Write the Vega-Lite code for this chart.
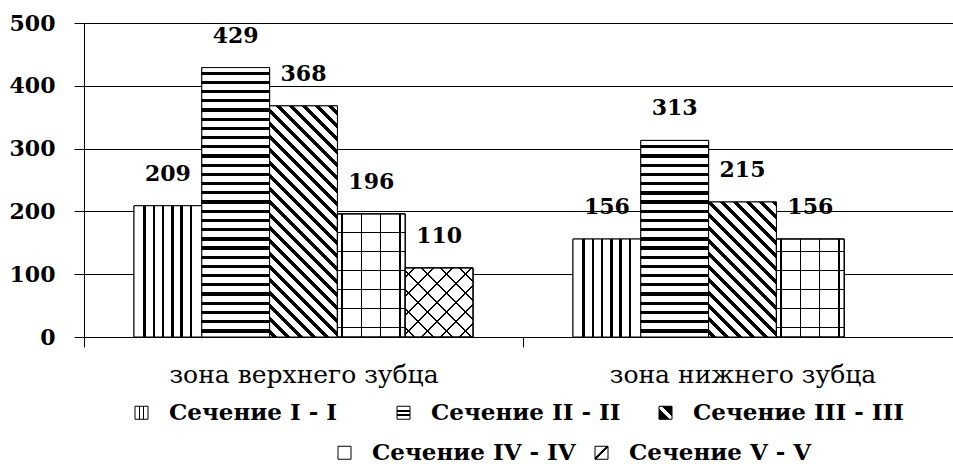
{
"$schema": "https://vega.github.io/schema/vega-lite/v6.json",
"width": 878, "height": 314,
"padding": {"left": 9, "top": 12, "right": 0, "bottom": 0},
"config": {"view": {"stroke": null}, "font": "DejaVu Serif"},
"data": {"values": [
{"zone": "зона верхнего зубца", "section": "Сечение I - I", "value": 209},
{"zone": "зона верхнего зубца", "section": "Сечение II - II", "value": 429},
{"zone": "зона верхнего зубца", "section": "Сечение III - III", "value": 368},
{"zone": "зона верхнего зубца", "section": "Сечение IV - IV", "value": 196},
{"zone": "зона верхнего зубца", "section": "Сечение V - V", "value": 110},
{"zone": "зона нижнего зубца", "section": "Сечение I - I", "value": 156},
{"zone": "зона нижнего зубца", "section": "Сечение II - II", "value": 313},
{"zone": "зона нижнего зубца", "section": "Сечение III - III", "value": 215},
{"zone": "зона нижнего зубца", "section": "Сечение IV - IV", "value": 156}
]},
"encoding": {
"x": {"field": "zone", "type": "nominal", "sort": null,
 "scale": {"domain": ["зона верхнего зубца", "зона нижнего зубца"], "paddingInner": 0, "paddingOuter": 0},
 "axis": {"title": null, "labelAngle": 0, "tickBand": "extent", "tickSize": 10, "tickColor": "black", "domainColor": "black", "labelFont": "DejaVu Serif", "labelFontSize": 25, "labelColor": "black", "labelPadding": 15, "labelLimit": 400, "grid": false}},
"xOffset": {"field": "section", "type": "nominal", "sort": null,
 "scale": {"domain": ["Сечение I - I", "Сечение II - II", "Сечение III - III", "Сечение IV - IV", "Сечение V - V"], "paddingInner": 0, "paddingOuter": 0.7375}},
"y": {"field": "value", "type": "quantitative", "scale": {"domain": [0, 500], "nice": false},
 "axis": {"title": null, "values": [0, 100, 200, 300, 400, 500], "grid": true, "gridColor": "black", "gridWidth": 1, "domainColor": "black", "tickColor": "black", "tickSize": 10, "labelFont": "DejaVu Serif", "labelFontWeight": "bold", "labelFontSize": 22, "labelColor": "black", "labelPadding": 19}}
},
"layer": [
{"transform": [{"filter": {"field": "section", "oneOf": ["Сечение I - I", "Сечение II - II", "Сечение III - III"]}}],
 "mark": {"type": "bar", "stroke": "black", "strokeWidth": 1},
 "encoding": {"fill": {"field": "section", "type": "nominal", "sort": null,
  "scale": {"domain": ["Сечение I - I", "Сечение II - II", "Сечение III - III"], "range": [
   {"expr": "{gradient:'linear',x1:0,y1:0,x2:1,y2:0,stops:[{offset:0,color:'white'},{offset:0.28,color:'white'},{offset:0.28,color:'black'},{offset:0.42,color:'black'},{offset:0.42,color:'white'},{offset:0.58,color:'white'},{offset:0.58,color:'black'},{offset:0.72,color:'black'},{offset:0.72,color:'white'},{offset:1,color:'white'}]}"},
   {"expr": "{gradient:'linear',x1:0,y1:0,x2:0,y2:1,stops:[{offset:0,color:'white'},{offset:0.28,color:'white'},{offset:0.28,color:'black'},{offset:0.42,color:'black'},{offset:0.42,color:'white'},{offset:0.58,color:'white'},{offset:0.58,color:'black'},{offset:0.72,color:'black'},{offset:0.72,color:'white'},{offset:1,color:'white'}]}"},
   {"expr": "{gradient:'linear',x1:0,y1:1,x2:1,y2:0,stops:[{offset:0,color:'black'},{offset:0.4,color:'black'},{offset:0.4,color:'white'},{offset:0.6,color:'white'},{offset:0.6,color:'black'},{offset:1,color:'black'}]}"}
  ]},
  "legend": {"orient": "none", "legendX": 46, "legendY": 378, "direction": "horizontal", "title": null, "gridAlign": "all", "columnPadding": 11, "padding": 0, "labelFont": "DejaVu Serif", "labelFontWeight": "bold", "labelFontSize": 23, "labelColor": "black", "labelOffset": 16, "labelLimit": 400, "symbolType": "square", "symbolSize": 169, "symbolStrokeColor": "black", "symbolStrokeWidth": 1, "symbolOpacity": 1}}}},
{"transform": [{"filter": {"field": "section", "oneOf": ["Сечение IV - IV", "Сечение V - V"]}}],
 "mark": {"type": "bar", "stroke": "black", "strokeWidth": 1},
 "encoding": {"fill": {"field": "section", "type": "nominal", "sort": null,
  "scale": {"domain": ["Сечение IV - IV", "Сечение V - V"], "range": [
   "white",
   {"expr": "{gradient:'linear',x1:0,y1:0,x2:1,y2:1,stops:[{offset:0,color:'white'},{offset:0.45,color:'white'},{offset:0.45,color:'black'},{offset:0.55,color:'black'},{offset:0.55,color:'white'},{offset:1,color:'white'}]}"}
  ]},
  "legend": {"orient": "none", "legendX": 249, "legendY": 418, "direction": "horizontal", "title": null, "gridAlign": "all", "columnPadding": 14, "padding": 0, "labelFont": "DejaVu Serif", "labelFontWeight": "bold", "labelFontSize": 23, "labelColor": "black", "labelOffset": 16, "labelLimit": 400, "symbolType": "square", "symbolSize": 169, "symbolStrokeColor": "black", "symbolStrokeWidth": 1, "symbolOpacity": 1}}}},
{"transform": [{"filter": {"field": "section", "equal": "Сечение I - I"}}],
 "mark": {"type": "bar", "stroke": "black", "strokeWidth": 1,
  "fill": {"gradient": "linear", "x1": 0, "y1": 0, "x2": 1, "y2": 0, "stops": [{"offset": 0, "color": "white"},
   {"offset": 0.137, "color": "white"}, {"offset": 0.137, "color": "black"}, {"offset": 0.174, "color": "black"}, {"offset": 0.174, "color": "white"},
   {"offset": 0.274, "color": "white"}, {"offset": 0.274, "color": "black"}, {"offset": 0.311, "color": "black"}, {"offset": 0.311, "color": "white"},
   {"offset": 0.411, "color": "white"}, {"offset": 0.411, "color": "black"}, {"offset": 0.448, "color": "black"}, {"offset": 0.448, "color": "white"},
   {"offset": 0.548, "color": "white"}, {"offset": 0.548, "color": "black"}, {"offset": 0.585, "color": "black"}, {"offset": 0.585, "color": "white"},
   {"offset": 0.685, "color": "white"}, {"offset": 0.685, "color": "black"}, {"offset": 0.722, "color": "black"}, {"offset": 0.722, "color": "white"},
   {"offset": 0.822, "color": "white"}, {"offset": 0.822, "color": "black"}, {"offset": 0.859, "color": "black"}, {"offset": 0.859, "color": "white"},
   {"offset": 1, "color": "white"}]}}},
{"transform": [{"filter": {"and": [{"field": "section", "equal": "Сечение II - II"}, {"field": "zone", "equal": "зона верхнего зубца"}]}}],
 "mark": {"type": "bar", "stroke": "black", "strokeWidth": 1,
   "fill": {"gradient": "linear", "x1": 0, "y1": 1, "x2": 0, "y2": -0.0245, "stops": [{"offset": 0, "color": "white"},
{"offset": 0.0163, "color": "white"}, {"offset": 0.0163, "color": "black"}, {"offset": 0.0283, "color": "black"}, {"offset": 0.0283, "color": "white"},
{"offset": 0.0496, "color": "white"}, {"offset": 0.0496, "color": "black"}, {"offset": 0.0616, "color": "black"}, {"offset": 0.0616, "color": "white"},
{"offset": 0.0830, "color": "white"}, {"offset": 0.0830, "color": "black"}, {"offset": 0.0950, "color": "black"}, {"offset": 0.0950, "color": "white"},
{"offset": 0.1163, "color": "white"}, {"offset": 0.1163, "color": "black"}, {"offset": 0.1283, "color": "black"}, {"offset": 0.1283, "color": "white"},
{"offset": 0.1496, "color": "white"}, {"offset": 0.1496, "color": "black"}, {"offset": 0.1616, "color": "black"}, {"offset": 0.1616, "color": "white"},
{"offset": 0.1830, "color": "white"}, {"offset": 0.1830, "color": "black"}, {"offset": 0.1950, "color": "black"}, {"offset": 0.1950, "color": "white"},
{"offset": 0.2163, "color": "white"}, {"offset": 0.2163, "color": "black"}, {"offset": 0.2283, "color": "black"}, {"offset": 0.2283, "color": "white"},
{"offset": 0.2496, "color": "white"}, {"offset": 0.2496, "color": "black"}, {"offset": 0.2616, "color": "black"}, {"offset": 0.2616, "color": "white"},
{"offset": 0.2830, "color": "white"}, {"offset": 0.2830, "color": "black"}, {"offset": 0.2950, "color": "black"}, {"offset": 0.2950, "color": "white"},
{"offset": 0.3163, "color": "white"}, {"offset": 0.3163, "color": "black"}, {"offset": 0.3283, "color": "black"}, {"offset": 0.3283, "color": "white"},
{"offset": 0.3496, "color": "white"}, {"offset": 0.3496, "color": "black"}, {"offset": 0.3616, "color": "black"}, {"offset": 0.3616, "color": "white"},
{"offset": 0.3830, "color": "white"}, {"offset": 0.3830, "color": "black"}, {"offset": 0.3950, "color": "black"}, {"offset": 0.3950, "color": "white"},
{"offset": 0.4163, "color": "white"}, {"offset": 0.4163, "color": "black"}, {"offset": 0.4283, "color": "black"}, {"offset": 0.4283, "color": "white"},
{"offset": 0.4496, "color": "white"}, {"offset": 0.4496, "color": "black"}, {"offset": 0.4616, "color": "black"}, {"offset": 0.4616, "color": "white"},
{"offset": 0.4830, "color": "white"}, {"offset": 0.4830, "color": "black"}, {"offset": 0.4950, "color": "black"}, {"offset": 0.4950, "color": "white"},
{"offset": 0.5163, "color": "white"}, {"offset": 0.5163, "color": "black"}, {"offset": 0.5283, "color": "black"}, {"offset": 0.5283, "color": "white"},
{"offset": 0.5496, "color": "white"}, {"offset": 0.5496, "color": "black"}, {"offset": 0.5616, "color": "black"}, {"offset": 0.5616, "color": "white"},
{"offset": 0.5830, "color": "white"}, {"offset": 0.5830, "color": "black"}, {"offset": 0.5950, "color": "black"}, {"offset": 0.5950, "color": "white"},
{"offset": 0.6163, "color": "white"}, {"offset": 0.6163, "color": "black"}, {"offset": 0.6283, "color": "black"}, {"offset": 0.6283, "color": "white"},
{"offset": 0.6496, "color": "white"}, {"offset": 0.6496, "color": "black"}, {"offset": 0.6616, "color": "black"}, {"offset": 0.6616, "color": "white"},
{"offset": 0.6830, "color": "white"}, {"offset": 0.6830, "color": "black"}, {"offset": 0.6950, "color": "black"}, {"offset": 0.6950, "color": "white"},
{"offset": 0.7163, "color": "white"}, {"offset": 0.7163, "color": "black"}, {"offset": 0.7283, "color": "black"}, {"offset": 0.7283, "color": "white"},
{"offset": 0.7496, "color": "white"}, {"offset": 0.7496, "color": "black"}, {"offset": 0.7616, "color": "black"}, {"offset": 0.7616, "color": "white"},
{"offset": 0.7830, "color": "white"}, {"offset": 0.7830, "color": "black"}, {"offset": 0.7950, "color": "black"}, {"offset": 0.7950, "color": "white"},
{"offset": 0.8163, "color": "white"}, {"offset": 0.8163, "color": "black"}, {"offset": 0.8283, "color": "black"}, {"offset": 0.8283, "color": "white"},
{"offset": 0.8496, "color": "white"}, {"offset": 0.8496, "color": "black"}, {"offset": 0.8616, "color": "black"}, {"offset": 0.8616, "color": "white"},
{"offset": 0.8830, "color": "white"}, {"offset": 0.8830, "color": "black"}, {"offset": 0.8950, "color": "black"}, {"offset": 0.8950, "color": "white"},
{"offset": 0.9163, "color": "white"}, {"offset": 0.9163, "color": "black"}, {"offset": 0.9283, "color": "black"}, {"offset": 0.9283, "color": "white"},
{"offset": 0.9496, "color": "white"}, {"offset": 0.9496, "color": "black"}, {"offset": 0.9616, "color": "black"}, {"offset": 0.9616, "color": "white"},
{"offset": 0.9830, "color": "white"}, {"offset": 0.9830, "color": "black"}, {"offset": 0.9950, "color": "black"}, {"offset": 0.9950, "color": "white"},
{"offset": 1, "color": "white"}]}}},
{"transform": [{"filter": {"and": [{"field": "section", "equal": "Сечение II - II"}, {"field": "zone", "equal": "зона нижнего зубца"}]}}],
 "mark": {"type": "bar", "stroke": "black", "strokeWidth": 1,
   "fill": {"gradient": "linear", "x1": 0, "y1": 1, "x2": 0, "y2": -0.4041, "stops": [{"offset": 0, "color": "white"},
{"offset": 0.0163, "color": "white"}, {"offset": 0.0163, "color": "black"}, {"offset": 0.0283, "color": "black"}, {"offset": 0.0283, "color": "white"},
{"offset": 0.0496, "color": "white"}, {"offset": 0.0496, "color": "black"}, {"offset": 0.0616, "color": "black"}, {"offset": 0.0616, "color": "white"},
{"offset": 0.0830, "color": "white"}, {"offset": 0.0830, "color": "black"}, {"offset": 0.0950, "color": "black"}, {"offset": 0.0950, "color": "white"},
{"offset": 0.1163, "color": "white"}, {"offset": 0.1163, "color": "black"}, {"offset": 0.1283, "color": "black"}, {"offset": 0.1283, "color": "white"},
{"offset": 0.1496, "color": "white"}, {"offset": 0.1496, "color": "black"}, {"offset": 0.1616, "color": "black"}, {"offset": 0.1616, "color": "white"},
{"offset": 0.1830, "color": "white"}, {"offset": 0.1830, "color": "black"}, {"offset": 0.1950, "color": "black"}, {"offset": 0.1950, "color": "white"},
{"offset": 0.2163, "color": "white"}, {"offset": 0.2163, "color": "black"}, {"offset": 0.2283, "color": "black"}, {"offset": 0.2283, "color": "white"},
{"offset": 0.2496, "color": "white"}, {"offset": 0.2496, "color": "black"}, {"offset": 0.2616, "color": "black"}, {"offset": 0.2616, "color": "white"},
{"offset": 0.2830, "color": "white"}, {"offset": 0.2830, "color": "black"}, {"offset": 0.2950, "color": "black"}, {"offset": 0.2950, "color": "white"},
{"offset": 0.3163, "color": "white"}, {"offset": 0.3163, "color": "black"}, {"offset": 0.3283, "color": "black"}, {"offset": 0.3283, "color": "white"},
{"offset": 0.3496, "color": "white"}, {"offset": 0.3496, "color": "black"}, {"offset": 0.3616, "color": "black"}, {"offset": 0.3616, "color": "white"},
{"offset": 0.3830, "color": "white"}, {"offset": 0.3830, "color": "black"}, {"offset": 0.3950, "color": "black"}, {"offset": 0.3950, "color": "white"},
{"offset": 0.4163, "color": "white"}, {"offset": 0.4163, "color": "black"}, {"offset": 0.4283, "color": "black"}, {"offset": 0.4283, "color": "white"},
{"offset": 0.4496, "color": "white"}, {"offset": 0.4496, "color": "black"}, {"offset": 0.4616, "color": "black"}, {"offset": 0.4616, "color": "white"},
{"offset": 0.4830, "color": "white"}, {"offset": 0.4830, "color": "black"}, {"offset": 0.4950, "color": "black"}, {"offset": 0.4950, "color": "white"},
{"offset": 0.5163, "color": "white"}, {"offset": 0.5163, "color": "black"}, {"offset": 0.5283, "color": "black"}, {"offset": 0.5283, "color": "white"},
{"offset": 0.5496, "color": "white"}, {"offset": 0.5496, "color": "black"}, {"offset": 0.5616, "color": "black"}, {"offset": 0.5616, "color": "white"},
{"offset": 0.5830, "color": "white"}, {"offset": 0.5830, "color": "black"}, {"offset": 0.5950, "color": "black"}, {"offset": 0.5950, "color": "white"},
{"offset": 0.6163, "color": "white"}, {"offset": 0.6163, "color": "black"}, {"offset": 0.6283, "color": "black"}, {"offset": 0.6283, "color": "white"},
{"offset": 0.6496, "color": "white"}, {"offset": 0.6496, "color": "black"}, {"offset": 0.6616, "color": "black"}, {"offset": 0.6616, "color": "white"},
{"offset": 0.6830, "color": "white"}, {"offset": 0.6830, "color": "black"}, {"offset": 0.6950, "color": "black"}, {"offset": 0.6950, "color": "white"},
{"offset": 0.7163, "color": "white"}, {"offset": 0.7163, "color": "black"}, {"offset": 0.7283, "color": "black"}, {"offset": 0.7283, "color": "white"},
{"offset": 0.7496, "color": "white"}, {"offset": 0.7496, "color": "black"}, {"offset": 0.7616, "color": "black"}, {"offset": 0.7616, "color": "white"},
{"offset": 0.7830, "color": "white"}, {"offset": 0.7830, "color": "black"}, {"offset": 0.7950, "color": "black"}, {"offset": 0.7950, "color": "white"},
{"offset": 0.8163, "color": "white"}, {"offset": 0.8163, "color": "black"}, {"offset": 0.8283, "color": "black"}, {"offset": 0.8283, "color": "white"},
{"offset": 0.8496, "color": "white"}, {"offset": 0.8496, "color": "black"}, {"offset": 0.8616, "color": "black"}, {"offset": 0.8616, "color": "white"},
{"offset": 0.8830, "color": "white"}, {"offset": 0.8830, "color": "black"}, {"offset": 0.8950, "color": "black"}, {"offset": 0.8950, "color": "white"},
{"offset": 0.9163, "color": "white"}, {"offset": 0.9163, "color": "black"}, {"offset": 0.9283, "color": "black"}, {"offset": 0.9283, "color": "white"},
{"offset": 0.9496, "color": "white"}, {"offset": 0.9496, "color": "black"}, {"offset": 0.9616, "color": "black"}, {"offset": 0.9616, "color": "white"},
{"offset": 0.9830, "color": "white"}, {"offset": 0.9830, "color": "black"}, {"offset": 0.9950, "color": "black"}, {"offset": 0.9950, "color": "white"},
{"offset": 1, "color": "white"}]}}},
{"transform": [{"filter": {"and": [{"field": "section", "equal": "Сечение III - III"}, {"field": "zone", "equal": "зона верхнего зубца"}]}}],
 "mark": {"type": "bar", "stroke": "black", "strokeWidth": 1,
   "fill": {"gradient": "linear", "x1": 0, "y1": 1, "x2": 0.3650, "y2": -0.2441, "stops": [{"offset": 0, "color": "white"},
{"offset": 0.0091, "color": "white"}, {"offset": 0.0091, "color": "black"}, {"offset": 0.0249, "color": "black"}, {"offset": 0.0249, "color": "white"},
{"offset": 0.0507, "color": "white"}, {"offset": 0.0507, "color": "black"}, {"offset": 0.0666, "color": "black"}, {"offset": 0.0666, "color": "white"},
{"offset": 0.0924, "color": "white"}, {"offset": 0.0924, "color": "black"}, {"offset": 0.1082, "color": "black"}, {"offset": 0.1082, "color": "white"},
{"offset": 0.1341, "color": "white"}, {"offset": 0.1341, "color": "black"}, {"offset": 0.1499, "color": "black"}, {"offset": 0.1499, "color": "white"},
{"offset": 0.1757, "color": "white"}, {"offset": 0.1757, "color": "black"}, {"offset": 0.1916, "color": "black"}, {"offset": 0.1916, "color": "white"},
{"offset": 0.2174, "color": "white"}, {"offset": 0.2174, "color": "black"}, {"offset": 0.2332, "color": "black"}, {"offset": 0.2332, "color": "white"},
{"offset": 0.2591, "color": "white"}, {"offset": 0.2591, "color": "black"}, {"offset": 0.2749, "color": "black"}, {"offset": 0.2749, "color": "white"},
{"offset": 0.3007, "color": "white"}, {"offset": 0.3007, "color": "black"}, {"offset": 0.3166, "color": "black"}, {"offset": 0.3166, "color": "white"},
{"offset": 0.3424, "color": "white"}, {"offset": 0.3424, "color": "black"}, {"offset": 0.3582, "color": "black"}, {"offset": 0.3582, "color": "white"},
{"offset": 0.3841, "color": "white"}, {"offset": 0.3841, "color": "black"}, {"offset": 0.3999, "color": "black"}, {"offset": 0.3999, "color": "white"},
{"offset": 0.4257, "color": "white"}, {"offset": 0.4257, "color": "black"}, {"offset": 0.4416, "color": "black"}, {"offset": 0.4416, "color": "white"},
{"offset": 0.4674, "color": "white"}, {"offset": 0.4674, "color": "black"}, {"offset": 0.4832, "color": "black"}, {"offset": 0.4832, "color": "white"},
{"offset": 0.5091, "color": "white"}, {"offset": 0.5091, "color": "black"}, {"offset": 0.5249, "color": "black"}, {"offset": 0.5249, "color": "white"},
{"offset": 0.5507, "color": "white"}, {"offset": 0.5507, "color": "black"}, {"offset": 0.5666, "color": "black"}, {"offset": 0.5666, "color": "white"},
{"offset": 0.5924, "color": "white"}, {"offset": 0.5924, "color": "black"}, {"offset": 0.6082, "color": "black"}, {"offset": 0.6082, "color": "white"},
{"offset": 0.6341, "color": "white"}, {"offset": 0.6341, "color": "black"}, {"offset": 0.6499, "color": "black"}, {"offset": 0.6499, "color": "white"},
{"offset": 0.6757, "color": "white"}, {"offset": 0.6757, "color": "black"}, {"offset": 0.6916, "color": "black"}, {"offset": 0.6916, "color": "white"},
{"offset": 0.7174, "color": "white"}, {"offset": 0.7174, "color": "black"}, {"offset": 0.7332, "color": "black"}, {"offset": 0.7332, "color": "white"},
{"offset": 0.7591, "color": "white"}, {"offset": 0.7591, "color": "black"}, {"offset": 0.7749, "color": "black"}, {"offset": 0.7749, "color": "white"},
{"offset": 0.8007, "color": "white"}, {"offset": 0.8007, "color": "black"}, {"offset": 0.8166, "color": "black"}, {"offset": 0.8166, "color": "white"},
{"offset": 0.8424, "color": "white"}, {"offset": 0.8424, "color": "black"}, {"offset": 0.8582, "color": "black"}, {"offset": 0.8582, "color": "white"},
{"offset": 0.8841, "color": "white"}, {"offset": 0.8841, "color": "black"}, {"offset": 0.8999, "color": "black"}, {"offset": 0.8999, "color": "white"},
{"offset": 0.9257, "color": "white"}, {"offset": 0.9257, "color": "black"}, {"offset": 0.9416, "color": "black"}, {"offset": 0.9416, "color": "white"},
{"offset": 0.9674, "color": "white"}, {"offset": 0.9674, "color": "black"}, {"offset": 0.9832, "color": "black"}, {"offset": 0.9832, "color": "white"},
{"offset": 1, "color": "white"}]}}},
{"transform": [{"filter": {"and": [{"field": "section", "equal": "Сечение III - III"}, {"field": "zone", "equal": "зона нижнего зубца"}]}}],
 "mark": {"type": "bar", "stroke": "black", "strokeWidth": 1,
   "fill": {"gradient": "linear", "x1": 0, "y1": 1, "x2": 0.9274, "y2": -0.8469, "stops": [{"offset": 0, "color": "white"},
{"offset": 0.0091, "color": "white"}, {"offset": 0.0091, "color": "black"}, {"offset": 0.0249, "color": "black"}, {"offset": 0.0249, "color": "white"},
{"offset": 0.0507, "color": "white"}, {"offset": 0.0507, "color": "black"}, {"offset": 0.0666, "color": "black"}, {"offset": 0.0666, "color": "white"},
{"offset": 0.0924, "color": "white"}, {"offset": 0.0924, "color": "black"}, {"offset": 0.1082, "color": "black"}, {"offset": 0.1082, "color": "white"},
{"offset": 0.1341, "color": "white"}, {"offset": 0.1341, "color": "black"}, {"offset": 0.1499, "color": "black"}, {"offset": 0.1499, "color": "white"},
{"offset": 0.1757, "color": "white"}, {"offset": 0.1757, "color": "black"}, {"offset": 0.1916, "color": "black"}, {"offset": 0.1916, "color": "white"},
{"offset": 0.2174, "color": "white"}, {"offset": 0.2174, "color": "black"}, {"offset": 0.2332, "color": "black"}, {"offset": 0.2332, "color": "white"},
{"offset": 0.2591, "color": "white"}, {"offset": 0.2591, "color": "black"}, {"offset": 0.2749, "color": "black"}, {"offset": 0.2749, "color": "white"},
{"offset": 0.3007, "color": "white"}, {"offset": 0.3007, "color": "black"}, {"offset": 0.3166, "color": "black"}, {"offset": 0.3166, "color": "white"},
{"offset": 0.3424, "color": "white"}, {"offset": 0.3424, "color": "black"}, {"offset": 0.3582, "color": "black"}, {"offset": 0.3582, "color": "white"},
{"offset": 0.3841, "color": "white"}, {"offset": 0.3841, "color": "black"}, {"offset": 0.3999, "color": "black"}, {"offset": 0.3999, "color": "white"},
{"offset": 0.4257, "color": "white"}, {"offset": 0.4257, "color": "black"}, {"offset": 0.4416, "color": "black"}, {"offset": 0.4416, "color": "white"},
{"offset": 0.4674, "color": "white"}, {"offset": 0.4674, "color": "black"}, {"offset": 0.4832, "color": "black"}, {"offset": 0.4832, "color": "white"},
{"offset": 0.5091, "color": "white"}, {"offset": 0.5091, "color": "black"}, {"offset": 0.5249, "color": "black"}, {"offset": 0.5249, "color": "white"},
{"offset": 0.5507, "color": "white"}, {"offset": 0.5507, "color": "black"}, {"offset": 0.5666, "color": "black"}, {"offset": 0.5666, "color": "white"},
{"offset": 0.5924, "color": "white"}, {"offset": 0.5924, "color": "black"}, {"offset": 0.6082, "color": "black"}, {"offset": 0.6082, "color": "white"},
{"offset": 0.6341, "color": "white"}, {"offset": 0.6341, "color": "black"}, {"offset": 0.6499, "color": "black"}, {"offset": 0.6499, "color": "white"},
{"offset": 0.6757, "color": "white"}, {"offset": 0.6757, "color": "black"}, {"offset": 0.6916, "color": "black"}, {"offset": 0.6916, "color": "white"},
{"offset": 0.7174, "color": "white"}, {"offset": 0.7174, "color": "black"}, {"offset": 0.7332, "color": "black"}, {"offset": 0.7332, "color": "white"},
{"offset": 0.7591, "color": "white"}, {"offset": 0.7591, "color": "black"}, {"offset": 0.7749, "color": "black"}, {"offset": 0.7749, "color": "white"},
{"offset": 0.8007, "color": "white"}, {"offset": 0.8007, "color": "black"}, {"offset": 0.8166, "color": "black"}, {"offset": 0.8166, "color": "white"},
{"offset": 0.8424, "color": "white"}, {"offset": 0.8424, "color": "black"}, {"offset": 0.8582, "color": "black"}, {"offset": 0.8582, "color": "white"},
{"offset": 0.8841, "color": "white"}, {"offset": 0.8841, "color": "black"}, {"offset": 0.8999, "color": "black"}, {"offset": 0.8999, "color": "white"},
{"offset": 0.9257, "color": "white"}, {"offset": 0.9257, "color": "black"}, {"offset": 0.9416, "color": "black"}, {"offset": 0.9416, "color": "white"},
{"offset": 0.9674, "color": "white"}, {"offset": 0.9674, "color": "black"}, {"offset": 0.9832, "color": "black"}, {"offset": 0.9832, "color": "white"},
{"offset": 1, "color": "white"}]}}},
{"transform": [{"filter": {"field": "section", "equal": "Сечение IV - IV"}}],
 "mark": {"type": "bar", "stroke": "black", "strokeWidth": 1,
  "fill": {"gradient": "linear", "x1": 0, "y1": 0, "x2": 1, "y2": 0, "stops": [{"offset": 0, "color": "white"},
   {"offset": 0.059, "color": "white"}, {"offset": 0.059, "color": "black"}, {"offset": 0.078, "color": "black"}, {"offset": 0.078, "color": "white"},
   {"offset": 0.344, "color": "white"}, {"offset": 0.344, "color": "black"}, {"offset": 0.363, "color": "black"}, {"offset": 0.363, "color": "white"},
   {"offset": 0.628, "color": "white"}, {"offset": 0.628, "color": "black"}, {"offset": 0.647, "color": "black"}, {"offset": 0.647, "color": "white"},
   {"offset": 0.913, "color": "white"}, {"offset": 0.913, "color": "black"}, {"offset": 0.932, "color": "black"}, {"offset": 0.932, "color": "white"},
   {"offset": 1, "color": "white"}]}}},
{"transform": [{"filter": {"and": [{"field": "section", "equal": "Сечение IV - IV"}, {"field": "zone", "equal": "зона верхнего зубца"}]}}],
 "mark": {"type": "bar", "stroke": "black", "strokeWidth": 1,
   "fill": {"gradient": "linear", "x1": 0, "y1": 1, "x2": 0, "y2": -0.0805, "stops": [{"offset": 0, "color": "rgba(0,0,0,0)"},
{"offset": 0.0654, "color": "rgba(0,0,0,0)"}, {"offset": 0.0654, "color": "black"}, {"offset": 0.0752, "color": "black"}, {"offset": 0.0752, "color": "rgba(0,0,0,0)"},
{"offset": 0.2083, "color": "rgba(0,0,0,0)"}, {"offset": 0.2083, "color": "black"}, {"offset": 0.2181, "color": "black"}, {"offset": 0.2181, "color": "rgba(0,0,0,0)"},
{"offset": 0.3511, "color": "rgba(0,0,0,0)"}, {"offset": 0.3511, "color": "black"}, {"offset": 0.3609, "color": "black"}, {"offset": 0.3609, "color": "rgba(0,0,0,0)"},
{"offset": 0.4940, "color": "rgba(0,0,0,0)"}, {"offset": 0.4940, "color": "black"}, {"offset": 0.5038, "color": "black"}, {"offset": 0.5038, "color": "rgba(0,0,0,0)"},
{"offset": 0.6368, "color": "rgba(0,0,0,0)"}, {"offset": 0.6368, "color": "black"}, {"offset": 0.6466, "color": "black"}, {"offset": 0.6466, "color": "rgba(0,0,0,0)"},
{"offset": 0.7797, "color": "rgba(0,0,0,0)"}, {"offset": 0.7797, "color": "black"}, {"offset": 0.7895, "color": "black"}, {"offset": 0.7895, "color": "rgba(0,0,0,0)"},
{"offset": 0.9225, "color": "rgba(0,0,0,0)"}, {"offset": 0.9225, "color": "black"}, {"offset": 0.9323, "color": "black"}, {"offset": 0.9323, "color": "rgba(0,0,0,0)"},
{"offset": 1, "color": "rgba(0,0,0,0)"}]}}},
{"transform": [{"filter": {"and": [{"field": "section", "equal": "Сечение IV - IV"}, {"field": "zone", "equal": "зона нижнего зубца"}]}}],
 "mark": {"type": "bar", "stroke": "black", "strokeWidth": 1,
   "fill": {"gradient": "linear", "x1": 0, "y1": 1, "x2": 0, "y2": -0.3576, "stops": [{"offset": 0, "color": "rgba(0,0,0,0)"},
{"offset": 0.0654, "color": "rgba(0,0,0,0)"}, {"offset": 0.0654, "color": "black"}, {"offset": 0.0752, "color": "black"}, {"offset": 0.0752, "color": "rgba(0,0,0,0)"},
{"offset": 0.2083, "color": "rgba(0,0,0,0)"}, {"offset": 0.2083, "color": "black"}, {"offset": 0.2181, "color": "black"}, {"offset": 0.2181, "color": "rgba(0,0,0,0)"},
{"offset": 0.3511, "color": "rgba(0,0,0,0)"}, {"offset": 0.3511, "color": "black"}, {"offset": 0.3609, "color": "black"}, {"offset": 0.3609, "color": "rgba(0,0,0,0)"},
{"offset": 0.4940, "color": "rgba(0,0,0,0)"}, {"offset": 0.4940, "color": "black"}, {"offset": 0.5038, "color": "black"}, {"offset": 0.5038, "color": "rgba(0,0,0,0)"},
{"offset": 0.6368, "color": "rgba(0,0,0,0)"}, {"offset": 0.6368, "color": "black"}, {"offset": 0.6466, "color": "black"}, {"offset": 0.6466, "color": "rgba(0,0,0,0)"},
{"offset": 0.7797, "color": "rgba(0,0,0,0)"}, {"offset": 0.7797, "color": "black"}, {"offset": 0.7895, "color": "black"}, {"offset": 0.7895, "color": "rgba(0,0,0,0)"},
{"offset": 0.9225, "color": "rgba(0,0,0,0)"}, {"offset": 0.9225, "color": "black"}, {"offset": 0.9323, "color": "black"}, {"offset": 0.9323, "color": "rgba(0,0,0,0)"},
{"offset": 1, "color": "rgba(0,0,0,0)"}]}}},
{"transform": [{"filter": {"field": "section", "equal": "Сечение V - V"}}],
 "mark": {"type": "bar", "stroke": "black", "strokeWidth": 1,
  "fill": {"gradient": "linear", "x1": 0, "y1": 0, "x2": 1.0971, "y2": 1.1178, "stops": [{"offset": 0, "color": "white"},
   {"offset": 0.056, "color": "white"}, {"offset": 0.056, "color": "black"}, {"offset": 0.069, "color": "black"}, {"offset": 0.069, "color": "white"},
   {"offset": 0.181, "color": "white"}, {"offset": 0.181, "color": "black"}, {"offset": 0.194, "color": "black"}, {"offset": 0.194, "color": "white"},
   {"offset": 0.306, "color": "white"}, {"offset": 0.306, "color": "black"}, {"offset": 0.319, "color": "black"}, {"offset": 0.319, "color": "white"},
   {"offset": 0.431, "color": "white"}, {"offset": 0.431, "color": "black"}, {"offset": 0.444, "color": "black"}, {"offset": 0.444, "color": "white"},
   {"offset": 0.556, "color": "white"}, {"offset": 0.556, "color": "black"}, {"offset": 0.569, "color": "black"}, {"offset": 0.569, "color": "white"},
   {"offset": 0.681, "color": "white"}, {"offset": 0.681, "color": "black"}, {"offset": 0.694, "color": "black"}, {"offset": 0.694, "color": "white"},
   {"offset": 0.806, "color": "white"}, {"offset": 0.806, "color": "black"}, {"offset": 0.819, "color": "black"}, {"offset": 0.819, "color": "white"},
   {"offset": 0.931, "color": "white"}, {"offset": 0.931, "color": "black"}, {"offset": 0.944, "color": "black"}, {"offset": 0.944, "color": "white"},
   {"offset": 1, "color": "white"}]}}},
{"transform": [{"filter": {"field": "section", "equal": "Сечение V - V"}}],
 "mark": {"type": "bar", "stroke": "black", "strokeWidth": 1,
  "fill": {"gradient": "linear", "x1": 0, "y1": 1, "x2": 1.0971, "y2": -0.1178, "stops": [{"offset": 0, "color": "rgba(0,0,0,0)"},
   {"offset": 0.056, "color": "rgba(0,0,0,0)"}, {"offset": 0.056, "color": "black"}, {"offset": 0.069, "color": "black"}, {"offset": 0.069, "color": "rgba(0,0,0,0)"},
   {"offset": 0.181, "color": "rgba(0,0,0,0)"}, {"offset": 0.181, "color": "black"}, {"offset": 0.194, "color": "black"}, {"offset": 0.194, "color": "rgba(0,0,0,0)"},
   {"offset": 0.306, "color": "rgba(0,0,0,0)"}, {"offset": 0.306, "color": "black"}, {"offset": 0.319, "color": "black"}, {"offset": 0.319, "color": "rgba(0,0,0,0)"},
   {"offset": 0.431, "color": "rgba(0,0,0,0)"}, {"offset": 0.431, "color": "black"}, {"offset": 0.444, "color": "black"}, {"offset": 0.444, "color": "rgba(0,0,0,0)"},
   {"offset": 0.556, "color": "rgba(0,0,0,0)"}, {"offset": 0.556, "color": "black"}, {"offset": 0.569, "color": "black"}, {"offset": 0.569, "color": "rgba(0,0,0,0)"},
   {"offset": 0.681, "color": "rgba(0,0,0,0)"}, {"offset": 0.681, "color": "black"}, {"offset": 0.694, "color": "black"}, {"offset": 0.694, "color": "rgba(0,0,0,0)"},
   {"offset": 0.806, "color": "rgba(0,0,0,0)"}, {"offset": 0.806, "color": "black"}, {"offset": 0.819, "color": "black"}, {"offset": 0.819, "color": "rgba(0,0,0,0)"},
   {"offset": 0.931, "color": "rgba(0,0,0,0)"}, {"offset": 0.931, "color": "black"}, {"offset": 0.944, "color": "black"}, {"offset": 0.944, "color": "rgba(0,0,0,0)"},
   {"offset": 1, "color": "rgba(0,0,0,0)"}]}}},
{"mark": {"type": "text", "font": "DejaVu Serif", "fontWeight": "bold", "fontSize": 22, "baseline": "alphabetic", "align": "center", "dy": -25, "color": "black"},
 "encoding": {"text": {"field": "value", "type": "quantitative"}}}
],
"resolve": {"scale": {"fill": "independent"}, "legend": {"fill": "independent"}}
}
